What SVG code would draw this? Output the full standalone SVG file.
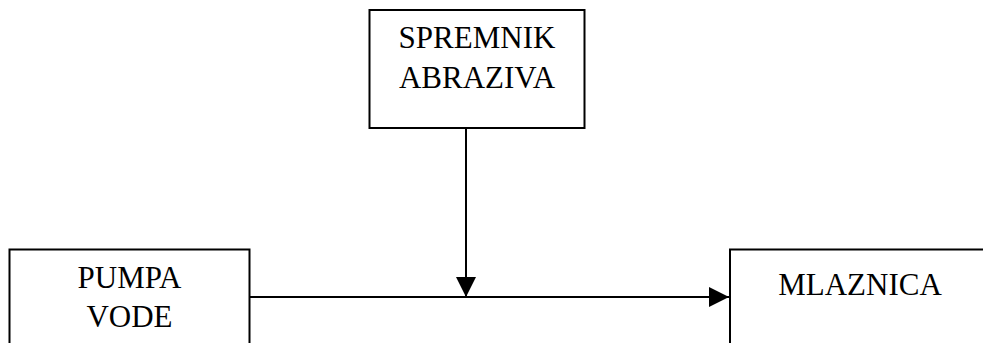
<svg xmlns="http://www.w3.org/2000/svg" width="983" height="343" viewBox="0 0 983 343">
  <style>
    .box { fill: #ffffff; stroke: #000000; stroke-width: 2; }
    .label { font-family: "Liberation Serif", "Times New Roman", serif; font-size: 31px; fill: #000000; text-anchor: middle; }
    .flow { stroke: #000000; stroke-width: 2; fill: none; }
  </style>
  <defs>
    <marker id="arrow" viewBox="0 0 20 20" refX="20" refY="10" markerWidth="20" markerHeight="20" markerUnits="userSpaceOnUse" orient="auto">
      <path d="M0,0 L20,10 L0,20 Z" fill="#000000"/>
    </marker>
  </defs>
  <rect width="983" height="343" fill="#ffffff"/>

  <g id="connectors">
    <line class="flow" x1="249" y1="297" x2="729" y2="297" marker-end="url(#arrow)"/>
    <line class="flow" x1="466" y1="128" x2="466" y2="297" marker-end="url(#arrow)"/>
  </g>

  <g id="spremnik-abraziva">
    <rect class="box" x="369.5" y="10" width="215" height="118"/>
    <text class="label" x="477" y="48">SPREMNIK</text>
    <text class="label" x="477" y="88">ABRAZIVA</text>
  </g>

  <g id="pumpa-vode">
    <rect class="box" x="9.5" y="249.5" width="240" height="120"/>
    <text class="label" x="129.5" y="288">PUMPA</text>
    <text class="label" x="129.5" y="327">VODE</text>
  </g>

  <g id="mlaznica">
    <rect class="box" x="730" y="249.5" width="270" height="120"/>
    <text class="label" x="860" y="295">MLAZNICA</text>
  </g>
</svg>
